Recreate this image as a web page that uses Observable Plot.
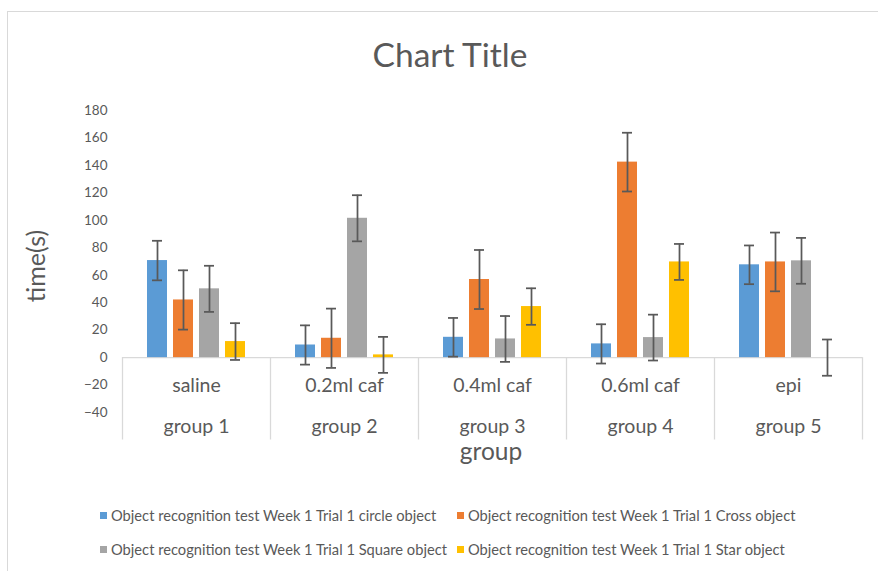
<!DOCTYPE html>
<html>
<head>
<meta charset="utf-8">
<script src="https://cdn.jsdelivr.net/npm/d3@7"></script>
<script src="https://cdn.jsdelivr.net/npm/@observablehq/plot@0.6"></script>
<style>
  body { margin:0; width:878px; height:571px; overflow:hidden; background:#fff; position:relative;
         font-family: Lato, "Open Sans", sans-serif; color:#595959; }
  #frame { position:absolute; left:7px; top:11px; width:900px; height:600px; border:1px solid #d9d9d9; box-sizing:border-box; }
  #title { position:absolute; left:0; top:33px; width:900px; text-align:center; font-size:33.5px; line-height:42px; }
  #chart { position:absolute; left:0; top:90px; }
  #ylabel { position:absolute; left:35px; top:266px; transform:translate(-50%,-50%) rotate(-90deg); font-size:25px; line-height:26px; white-space:nowrap; }
  #xlabel { position:absolute; left:491px; top:450px; transform:translate(-50%,-50%); font-size:24.5px; line-height:21px; white-space:nowrap; }
  #legend { position:absolute; left:100px; top:505px; display:grid; grid-template-columns:357px auto; row-gap:14px; font-size:14.7px; line-height:20px; }
  .item { display:flex; align-items:center; white-space:nowrap; }
  .sw { width:7px; height:7px; margin-right:4px; flex:none; }
</style>
</head>
<body>
<div id="frame"></div>
<div id="title">Chart Title</div>
<div id="chart"></div>
<div id="ylabel">time(s)</div>
<div id="xlabel">group</div>
<div id="legend"></div>
<script>
// ---- data ----
const groups = ["group 1", "group 2", "group 3", "group 4", "group 5"];
const treatments = ["saline", "0.2ml caf", "0.4ml caf", "0.6ml caf", "epi"];
const seriesNames = [
  "Object recognition test Week 1 Trial 1 circle object",
  "Object recognition test Week 1 Trial 1 Cross object",
  "Object recognition test Week 1 Trial 1 Square object",
  "Object recognition test Week 1 Trial 1 Star object"
];
const colors = ["#5B9BD5", "#ED7D31", "#A5A5A5", "#FFC000"];
const circle = [70.7, 9.2, 14.8, 10.0, 67.6];
const cross  = [42.0, 14.1, 56.9, 142.4, 69.7];
const square = [50.1, 101.5, 13.6, 14.6, 70.5];
const star   = [11.7, 2.0, 37.2, 69.7, 0];
const circleErr = [14.4, 14.3, 14.1, 14.3, 14.1];
const crossErr  = [21.6, 21.6, 21.5, 21.4, 21.4];
const squareErr = [16.8, 16.8, 16.7, 16.7, 16.7];
const starErr   = [13.4, 13.1, 13.3, 13.1, 13.2];
const yTicks = [-40, -20, 0, 20, 40, 60, 80, 100, 120, 140, 160, 180];

const values = [circle, cross, square, star];
const errs = [circleErr, crossErr, squareErr, starErr];
const data = [];
groups.forEach((g, i) => seriesNames.forEach((s, j) => {
  data.push({group: g, series: s, value: values[j][i], err: errs[j][i]});
}));

const W = 878, mL = 122, mR = 16;
const facetW = (W - mL - mR) / groups.length;
const ink = "#595959", axisInk = "#d9d9d9";
const font = 'Lato, "Open Sans", sans-serif';

const chart = Plot.plot({
  width: W, height: 380,
  marginTop: 20, marginBottom: 30.5, marginLeft: mL, marginRight: mR,
  style: {fontFamily: font, color: ink, background: "transparent", overflow: "visible"},
  fx: {domain: groups, padding: 0, axis: null, label: null},
  x: {domain: seriesNames, paddingInner: 0.222, paddingOuter: 0.852, axis: null},
  y: {domain: [-60, 180], axis: null},
  color: {domain: seriesNames, range: colors},
  marks: [
    Plot.axisY(yTicks, {anchor: "left", tickSize: 0, tickPadding: 15, fontSize: 13.5, fill: ink, label: null}),
    Plot.ruleY([0], {stroke: axisInk, strokeWidth: 1.3}),
    // category separators (left edge of each group, plus right edge of the last)
    Plot.ruleX(groups, {fx: d => d, x: null, y1: 0, y2: -60, dx: -facetW / 2, stroke: axisInk, strokeWidth: 1.3}),
    Plot.ruleX(groups.slice(-1), {fx: d => d, x: null, y1: 0, y2: -60, dx: facetW / 2, stroke: axisInk, strokeWidth: 1.3}),
    Plot.barY(data, {fx: "group", x: "series", y: "value", fill: "series"}),
    Plot.ruleX(data, {fx: "group", x: "series", y1: d => d.value - d.err, y2: d => d.value + d.err, stroke: ink, strokeWidth: 1.75}),
    Plot.tickY(data, {fx: "group", x: "series", y: d => d.value - d.err, insetLeft: 5, insetRight: 5, stroke: ink, strokeWidth: 1.75}),
    Plot.tickY(data, {fx: "group", x: "series", y: d => d.value + d.err, insetLeft: 5, insetRight: 5, stroke: ink, strokeWidth: 1.75}),
    Plot.axisFx({anchor: "bottom", tickSize: 0, tickFormat: d => treatments[groups.indexOf(d)], dy: -71, fontSize: 19.5, fill: ink, label: null}),
    Plot.axisFx({anchor: "bottom", tickSize: 0, tickFormat: d => d, dy: -30, fontSize: 19.5, fill: ink, label: null})
  ]
});
document.getElementById("chart").appendChild(chart);

const legend = document.getElementById("legend");
seriesNames.forEach((s, j) => {
  const it = document.createElement("div");
  it.className = "item";
  const sw = document.createElement("span");
  sw.className = "sw";
  sw.style.background = colors[j];
  const t = document.createElement("span");
  t.textContent = s;
  it.appendChild(sw); it.appendChild(t);
  legend.appendChild(it);
});
</script>
</body>
</html>
